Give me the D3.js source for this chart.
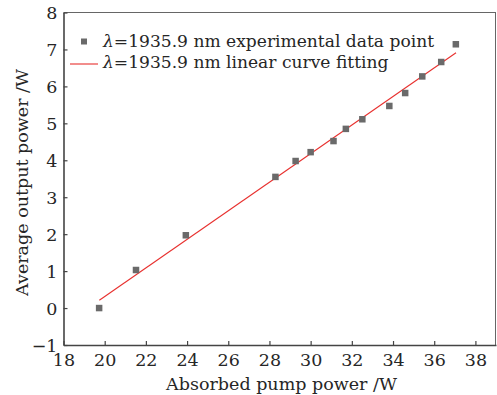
<!DOCTYPE html>
<html>
  <head>
    <meta charset="utf-8">
    <script src="https://d3js.org/d3.v7.min.js"></script>
    <style>
      body { margin: 0; background: white; }
      text { font-family: "DejaVu Serif", serif; fill: #262626; }
    </style>
  </head>
  <body>
    <script type="text/javascript">
      var pumpPower = [19.73, 21.52, 23.94, 28.29, 29.27, 30.0, 31.11, 31.71, 32.51, 33.82, 34.59, 35.42, 36.34, 37.05];
      var outputPower = [0.0, 1.03, 1.97, 3.55, 3.98, 4.22, 4.52, 4.85, 5.11, 5.47, 5.82, 6.27, 6.66, 7.14];

      // ends of the fitted line
      var fitX = [19.74, 37.06];
      var fitY = [0.21, 6.91];

      var xTicks = [18, 20, 22, 24, 26, 28, 30, 32, 34, 36, 38];
      var yTicks = [-1, 0, 1, 2, 3, 4, 5, 6, 7, 8];
      var legendLabels = ["=1935.9 nm experimental data point", "=1935.9 nm linear curve fitting"];

      var width = 497, height = 395;
      var plotLeft = 63.5, plotRight = 496, plotTop = 12.5, plotBottom = 345;
      var fs = "17.5px";

      var svg = d3.select("body").append("svg")
          .attr("width", width)
          .attr("height", height);

      var x = d3.scaleLinear().domain([18, 39]).range([plotLeft, plotRight]);
      var y = d3.scaleLinear().domain([-1, 8]).range([plotBottom, plotTop]);

      // frame (top/right lighter)
      svg.append("line").attr("x1", plotLeft).attr("x2", plotRight).attr("y1", plotTop).attr("y2", plotTop)
          .attr("stroke", "#666").attr("stroke-width", 1);
      svg.append("line").attr("x1", plotRight - 0.5).attr("x2", plotRight - 0.5).attr("y1", plotTop).attr("y2", plotBottom)
          .attr("stroke", "#666").attr("stroke-width", 1);

      // bottom axis, ticks inward
      var xAxis = svg.append("g")
          .attr("transform", "translate(0," + plotBottom + ")")
          .call(d3.axisBottom(x).tickValues(xTicks).tickSizeInner(-4).tickSizeOuter(0));
      xAxis.select(".domain").attr("stroke", "#444").attr("stroke-width", 1.6);
      xAxis.selectAll(".tick line").attr("stroke", "#444").attr("stroke-width", 1.2);
      xAxis.selectAll(".tick text").attr("y", 20.5).attr("dy", 0)
          .style("font-family", "DejaVu Serif").style("font-size", fs).attr("fill", "#262626");

      // left axis, ticks inward
      var yAxis = svg.append("g")
          .attr("transform", "translate(" + plotLeft + ",0)")
          .call(d3.axisLeft(y).tickValues(yTicks).tickSizeInner(-4).tickSizeOuter(0)
            .tickFormat(function (d) { return d < 0 ? "\u2212" + Math.abs(d) : d; }));
      yAxis.select(".domain").attr("stroke", "#444").attr("stroke-width", 1.6);
      yAxis.selectAll(".tick line").attr("stroke", "#444").attr("stroke-width", 1.2);
      yAxis.selectAll(".tick text").attr("x", -6).attr("dy", "0.36em")
          .style("font-family", "DejaVu Serif").style("font-size", fs).attr("fill", "#262626");

      // fitted line
      svg.append("line")
          .attr("x1", x(fitX[0])).attr("y1", y(fitY[0]))
          .attr("x2", x(fitX[1])).attr("y2", y(fitY[1]))
          .attr("stroke", "#e8302e").attr("stroke-width", 1.1);

      // data points
      var ms = 6.5;
      svg.selectAll("rect.pt")
          .data(pumpPower)
          .enter()
          .append("rect")
          .attr("class", "pt")
          .attr("x", function (d) { return x(d) - ms / 2; })
          .attr("y", function (d, i) { return y(outputPower[i]) - ms / 2; })
          .attr("width", ms).attr("height", ms)
          .attr("fill", "#6a6a6a");

      // legend
      svg.append("rect").attr("x", 84 - 3).attr("y", 41.5 - 3).attr("width", 6).attr("height", 6)
          .attr("fill", "#6a6a6a");
      svg.append("line").attr("x1", 70).attr("x2", 98).attr("y1", 64).attr("y2", 64)
          .attr("stroke", "#e8302e").attr("stroke-width", 1.1);

      svg.selectAll("text.leg")
          .data(legendLabels)
          .enter()
          .append("text")
          .attr("class", "leg")
          .attr("x", 103)
          .attr("y", function (d, i) { return 47 + i * 20.5; })
          .style("font-size", "17.1px")
          .each(function (d) {
            var t = d3.select(this);
            t.append("tspan").style("font-style", "italic").text("\u03bb");
            t.append("tspan").text(d);
          });

      // axis titles
      svg.append("text")
          .attr("x", 281.5)
          .attr("y", 390)
          .attr("text-anchor", "middle")
          .style("font-size", fs)
          .text("Absorbed pump power /W");

      svg.append("text")
          .attr("transform", "translate(28,182.5) rotate(-90)")
          .attr("text-anchor", "middle")
          .style("font-size", fs)
          .text("Average output power /W");
    </script>
  </body>
</html>
